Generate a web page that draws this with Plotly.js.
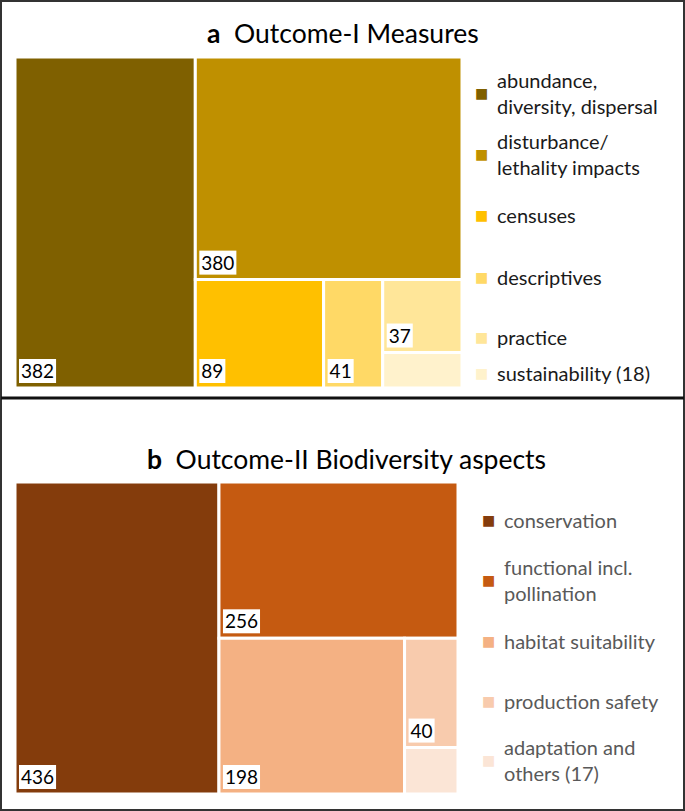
<!DOCTYPE html>
<html><head><meta charset="utf-8">
<script src="https://cdn.plot.ly/plotly-3.0.1.min.js"></script>
<style>html,body{margin:0;padding:0;background:#fff}#chart{width:685px;height:811px}</style>
</head><body><div id="chart"></div>
<script>
// Panel a data
const catsA = ['abundance, diversity, dispersal','disturbance/ lethality impacts','censuses','descriptives','practice','sustainability (18)'];
const legA = ['abundance,<br>diversity, dispersal','disturbance/<br>lethality impacts','censuses','descriptives','practice','sustainability (18)'];
const valsA = [382, 380, 89, 41, 37, 18];
const showA = [true, true, true, true, true, false];
const colA = ['#7F6000','#BF9000','#FFC000','#FFD966','#FFE699','#FFF2CC'];
// Panel b data
const catsB = ['conservation','functional incl. pollination','habitat suitability','production safety','adaptation and others (17)'];
const legB = ['conservation','functional incl.<br>pollination','habitat suitability','production safety','adaptation and<br>others (17)'];
const valsB = [436, 256, 198, 40, 17];
const showB = [true, true, true, true, false];
const colB = ['#843C0C','#C55A11','#F4B183','#F8CBAD','#FBE5D6'];

const W = 685, H = 811;
const px = x => x / W, py = y => 1 - y / H;
const FONT = 'Lato, "Open Sans", sans-serif';

function tm(cats, vals, show, cols, x0, x1, y0, y1) {
  return {
    type: 'treemap',
    labels: cats,
    parents: cats.map(() => ''),
    values: vals,
    text: vals.map((v, i) => show[i] ? String(v) : ''),
    textinfo: 'text',
    textposition: 'bottom left',
    textfont: {family: FONT, size: 19, color: '#000'},
    marker: {colors: cols, line: {color: '#ffffff', width: 3}, pad: {t: 0, l: 0, r: 0, b: 0}},
    pathbar: {visible: false},
    sort: true,
    tiling: {packing: 'squarify', squarifyratio: 1, pad: 0},
    hoverinfo: 'label+value',
    domain: {x: [px(x0), px(x1)], y: [py(y1), py(y0)]}
  };
}

const data = [
  tm(catsA, valsA, showA, colA, 15, 462, 57, 388),
  tm(catsB, valsB, showB, colB, 15, 458, 482, 794)
];

// legend layout positions (pixels from top)
const legYA = [93, 154, 215, 277, 337, 373];
const legYB = [520, 580, 641, 701, 760];

const annotations = [];
function addLegend(labels, cols, ys, sqX, txtColor) {
  labels.forEach((t, i) => {
    annotations.push({xref:'paper', yref:'paper', x: px(sqX), y: py(ys[i]), xanchor:'center', yanchor:'middle',
      text: '■', showarrow:false, font:{family:'DejaVu Sans', size: 14, color: cols[i]}});
    annotations.push({xref:'paper', yref:'paper', x: px(sqX + 14), y: py(ys[i]), xanchor:'left', yanchor:'middle',
      align:'left', text: t, showarrow:false, font:{family: FONT, size: 20, color: txtColor}});
  });
}
addLegend(legA, colA, legYA, 481, '#1a1a1a');
addLegend(legB, colB, legYB, 488, '#595959');

annotations.push({xref:'paper', yref:'paper', x: px(342.5), y: py(33), xanchor:'center', yanchor:'middle', showarrow:false,
  text:'<b>a</b>  Outcome-I Measures', font:{family: FONT, size: 26.5, color:'#000'}});
annotations.push({xref:'paper', yref:'paper', x: px(346.5), y: py(459), xanchor:'center', yanchor:'middle', showarrow:false,
  text:'<b>b</b>  Outcome-II Biodiversity aspects', font:{family: FONT, size: 26.5, color:'#000'}});

const layout = {
  width: W, height: H,
  margin: {l:0, r:0, t:0, b:0},
  paper_bgcolor: '#ffffff',
  showlegend: false,
  annotations: annotations,
  shapes: [
    {type:'rect', xref:'paper', yref:'paper', x0: px(1), x1: px(684), y0: py(810), y1: py(1), line:{color:'#333', width:2}},
    {type:'line', xref:'paper', yref:'paper', x0: px(1), x1: px(684), y0: py(398), y1: py(398), line:{color:'#111', width:3}}
  ]
};

Plotly.newPlot('chart', data, layout, {displayModeBar:false, staticPlot:true}).then(gd => {
  const texts = gd.querySelectorAll('g.slicetext text');
  texts.forEach(t => {
    if (!t.textContent.trim()) return;
    const bb = t.getBBox();
    const r = document.createElementNS('http://www.w3.org/2000/svg', 'rect');
    r.setAttribute('x', bb.x - 2);
    r.setAttribute('y', bb.y);
    r.setAttribute('width', bb.width + 4);
    r.setAttribute('height', bb.height + 1);
    r.setAttribute('fill', '#ffffff');
    const tr = (t.getAttribute('transform') || '') + ' translate(3,-3)';
    r.setAttribute('transform', tr);
    t.setAttribute('transform', tr);
    t.parentNode.insertBefore(r, t);
  });
});
</script>
</body></html>
